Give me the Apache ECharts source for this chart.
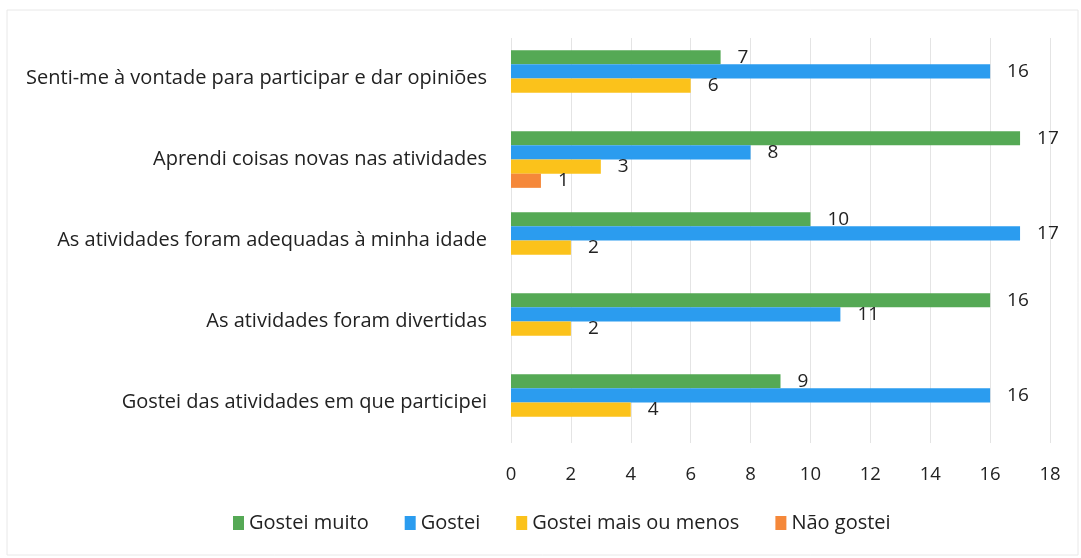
<!DOCTYPE html>
<html>
<head>
<meta charset="utf-8">
<script src="https://cdn.jsdelivr.net/npm/echarts@6/dist/echarts.min.js"></script>
<style>
  html, body { margin: 0; padding: 0; background: #fff; }
  #chart { width: 1081px; height: 558px; }
</style>
</head>
<body>
<div id="chart"></div>
<script>
const categories = [
  "Senti-me à vontade para participar e dar opiniões",
  "Aprendi coisas novas nas atividades",
  "As atividades foram adequadas à minha idade",
  "As atividades foram divertidas",
  "Gostei das atividades em que participei"
];
const seriesNames = ["Gostei muito", "Gostei", "Gostei mais ou menos", "Não gostei"];
const gosteiMuito = [7, 17, 10, 16, 9];
const gostei = [16, 8, 17, 11, 16];
const gosteiMaisOuMenos = [6, 3, 2, 2, 4];
const naoGostei = [null, 1, null, null, null];
const xTicks = { min: 0, max: 18, interval: 2 };

const colors = ["#55a955", "#2b9cef", "#fbc21b", "#f5883a"];
const values = [gosteiMuito, gostei, gosteiMaisOuMenos, naoGostei];

let chartDom = document.getElementById("chart");
let myChart = echarts.init(chartDom);

const font = "'Open Sans', 'Noto Sans', sans-serif";

const series = seriesNames.map(function (name, i) {
  return {
    name: name,
    type: "bar",
    data: values[i],
    barGap: "0%",
    barCategoryGap: "30%",
    itemStyle: { color: colors[i] },
    label: {
      show: true,
      position: "right",
      distance: 17,
      color: "#222",
      fontSize: 19,
      fontFamily: font
    }
  };
});

const option = {
  animation: false,
  backgroundColor: "#fff",
  grid: { left: 511, right: 31, top: 38, height: 405 },
  legend: {
    bottom: 20,
    left: 228,
    itemWidth: 11,
    itemHeight: 14,
    itemGap: 36,
    icon: "rect",
    textStyle: { fontSize: 20, color: "#222", fontFamily: font }
  },
  xAxis: {
    type: "value",
    min: xTicks.min,
    max: xTicks.max,
    interval: xTicks.interval,
    axisLine: { show: false },
    axisTick: { show: false },
    axisLabel: { fontSize: 18.5, color: "#222", margin: 22, fontFamily: font },
    splitLine: { lineStyle: { color: "#e4e4e4" } }
  },
  yAxis: {
    type: "category",
    inverse: true,
    data: categories,
    axisLine: { show: false },
    axisTick: { show: false },
    axisLabel: { fontSize: 20, color: "#222", margin: 24, fontFamily: font }
  },
  series: series,
  graphic: [{
    type: "rect",
    shape: { x: 7, y: 10, width: 1071, height: 545 },
    style: { fill: null, stroke: "#e8e8e8", lineWidth: 1 },
    silent: true
  }]
};

option && myChart.setOption(option);
</script>
</body>
</html>
